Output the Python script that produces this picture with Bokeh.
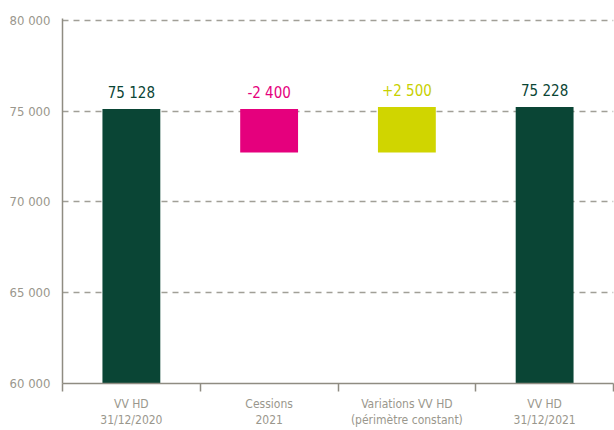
from bokeh.plotting import figure
from bokeh.models import ColumnDataSource, FixedTicker, Range1d
from bokeh.embed import file_html
from bokeh.resources import INLINE
from bokeh.core.properties import value

categories = ["VV HD\n31/12/2020", "Cessions\n2021", "Variations VV HD\n(périmètre constant)", "VV HD\n31/12/2021"]
amounts = [75128, -2400, 2500, 75228]
kinds = ["total", "delta", "delta", "total"]
labels = ["75 128", "-2 400", "+2 500", "75 228"]
bar_colors = ["#0a4535", "#e5007d", "#d0d500", "#0a4535"]
label_colors = ["#0a4535", "#e5007d", "#c8d000", "#0a4535"]
y_ticks = [60000, 65000, 70000, 75000, 80000]
y_tick_labels = ["60 000", "65 000", "70 000", "75 000", "80 000"]

FONT = "DejaVu Sans Condensed"
GRAY = "#9a978d"

# waterfall
bottoms, tops = [], []
running = 0
for a, k in zip(amounts, kinds):
    if k == "total":
        b, t = 0, a
        running = a
    else:
        start = running
        running = running + a
        b, t = min(start, running), max(start, running)
    bottoms.append(b)
    tops.append(t)

xs = [i + 0.5 for i in range(len(categories))]
src = ColumnDataSource(dict(x=xs, bottom=bottoms, top=tops, color=bar_colors,
                            label=labels, lcolor=label_colors))

p = figure(frame_width=551, frame_height=365, output_backend="svg", toolbar_location=None,
           x_range=Range1d(0, len(categories)), y_range=Range1d(60000, 80110))
p.min_border_left = 62
p.min_border_right = 1
p.min_border_top = 18
p.min_border_bottom = 47
p.outline_line_color = None
p.background_fill_color = "white"
p.border_fill_color = "white"

p.vbar(x="x", width=0.42, bottom="bottom", top="top", fill_color="color",
       line_color=None, source=src)
p.text(x="x", y="top", text="label", text_color="lcolor", source=src,
       text_font=value(FONT), text_font_size="15px", text_align="center",
       text_baseline="bottom", y_offset=-7)

# x axis
xa = p.xaxis[0]
xa.ticker = FixedTicker(ticks=xs, minor_ticks=list(range(len(categories) + 1)))
xa.major_label_overrides = {x: c for x, c in zip(xs, categories)}
xa.major_tick_line_color = None
xa.major_tick_out = 0
xa.major_tick_in = 0
xa.minor_tick_line_color = "#8f8c82"
xa.minor_tick_line_width = 1.5
xa.minor_tick_out = 8
xa.minor_tick_in = 0
xa.axis_line_color = "#8f8c82"
xa.axis_line_width = 1.5
xa.major_label_text_font = FONT
xa.major_label_text_font_size = "12px"
xa.major_label_text_color = GRAY
xa.major_label_standoff = 5

# y axis
ya = p.yaxis[0]
ya.ticker = FixedTicker(ticks=y_ticks)
ya.major_label_overrides = {t: l for t, l in zip(y_ticks, y_tick_labels)}
ya.major_tick_line_color = None
ya.major_tick_out = 0
ya.major_tick_in = 0
ya.minor_tick_line_color = None
ya.axis_line_color = "#8f8c82"
ya.axis_line_width = 1.5
ya.major_label_text_font = FONT
ya.major_label_text_font_size = "13px"
ya.major_label_text_color = GRAY
ya.major_label_standoff = 12

p.xgrid.grid_line_color = None
p.ygrid.grid_line_color = "#a19f97"
p.ygrid.grid_line_dash = "6 5"
p.ygrid.grid_line_width = 1.5

open("out.html", "w").write(file_html(p, INLINE))
